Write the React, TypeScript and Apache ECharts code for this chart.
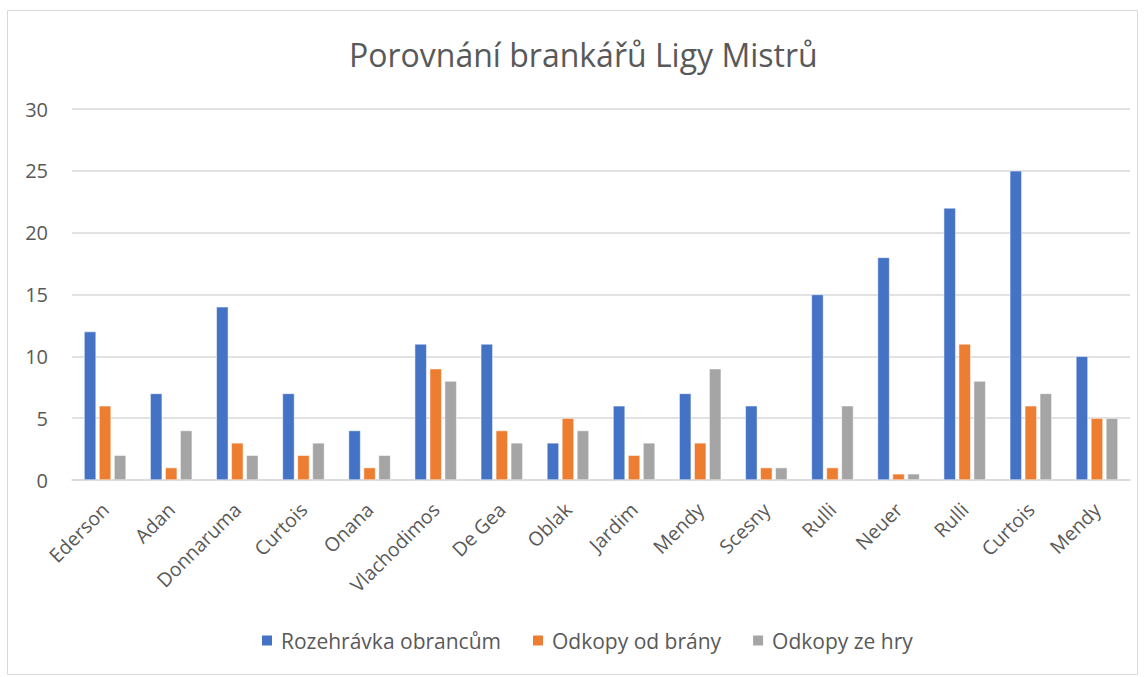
import React, { useEffect, useRef } from "react";
import * as echarts from "echarts";

const categories = ["Ederson", "Adan", "Donnaruma", "Curtois", "Onana", "Vlachodimos", "De Gea", "Oblak", "Jardim", "Mendy", "Scesny", "Rulli", "Neuer", "Rulli", "Curtois", "Mendy"];
const rozehravka = [12, 7, 14, 7, 4, 11, 11, 3, 6, 7, 6, 15, 18, 22, 25, 10];
const odkopyBrana = [6, 1, 3, 2, 1, 9, 4, 5, 2, 3, 1, 1, 0.5, 11, 6, 5];
const odkopyHra = [2, 4, 2, 3, 2, 8, 3, 4, 3, 9, 1, 6, 0.5, 8, 7, 5];
const seriesNames = ["Rozehrávka obrancům", "Odkopy od brány", "Odkopy ze hry"];
const colors = ["#4472C4", "#ED7D31", "#A5A5A5"];

const FONT = "'Open Sans', 'Noto Sans', sans-serif";

export default function App() {
  const ref = useRef<HTMLDivElement>(null);
  useEffect(() => {
    if (!ref.current) return;
    const chart = echarts.init(ref.current, undefined, { renderer: "svg" });
    const values = [rozehravka, odkopyBrana, odkopyHra];
    chart.setOption({
      animation: false,
      backgroundColor: "#ffffff",
      textStyle: { fontFamily: FONT },
      title: {
        text: "Porovnání brankářů Ligy Mistrů",
        left: 344,
        top: 33,
        textStyle: { fontFamily: FONT, fontSize: 32, fontWeight: "normal", color: "#595959" },
      },
      graphic: [
        {
          type: "rect",
          shape: { x: 7.5, y: 10.5, width: 1130, height: 664 },
          style: { fill: "none", stroke: "#d9d9d9", lineWidth: 1 },
          silent: true,
        },
      ],
      legend: {
        bottom: 21,
        left: 255,
        itemWidth: 12,
        itemHeight: 12,
        itemGap: 30,
        icon: "rect",
        textStyle: { fontFamily: FONT, fontSize: 21, color: "#595959", padding: [0, 0, 0, 3] },
        data: seriesNames,
      },
      grid: { left: 72, right: 14, top: 109, bottom: 197, containLabel: false },
      xAxis: {
        type: "category",
        data: categories,
        axisLine: { lineStyle: { color: "#d9d9d9", width: 1.5 } },
        axisTick: { show: false },
        axisLabel: { rotate: 45, fontFamily: FONT, fontSize: 19.5, color: "#595959", interval: 0, margin: 26 },
      },
      yAxis: {
        type: "value",
        min: 0,
        max: 30,
        interval: 5,
        axisLine: { show: false },
        axisTick: { show: false },
        splitLine: { lineStyle: { color: "#d9d9d9", width: 1.5 } },
        axisLabel: { fontFamily: FONT, fontSize: 20, color: "#595959", margin: 24 },
      },
      series: seriesNames.map((name, i) => ({
        name,
        type: "bar",
        data: values[i],
        barWidth: 12,
        barGap: "25%",
        itemStyle: { color: colors[i], borderColor: "#ffffff", borderWidth: 0.5 },
      })),
    });
    return () => chart.dispose();
  }, []);
  return <div ref={ref} style={{ position: "absolute", left: 0, top: 0, width: 1144, height: 677 }} />;
}
